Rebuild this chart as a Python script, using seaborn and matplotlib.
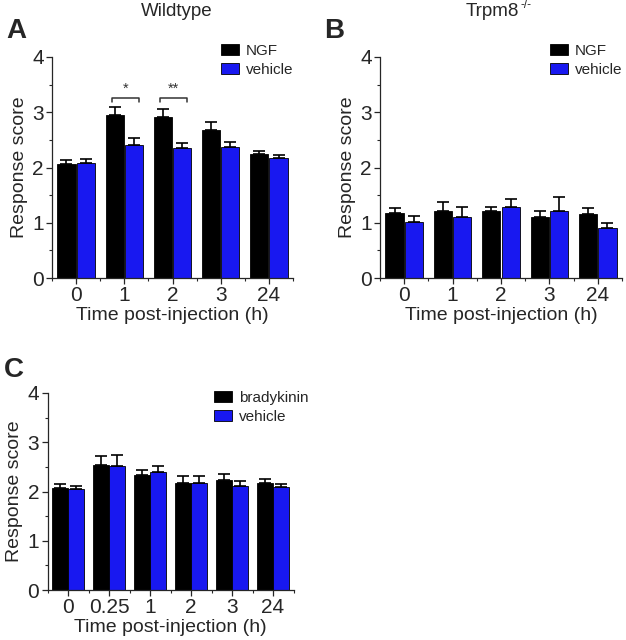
import numpy as np
import pandas as pd
import matplotlib
matplotlib.use('Agg')
import matplotlib.pyplot as plt
import seaborn as sns

sns.set_style('ticks')
plt.rcParams['font.family'] = ['Liberation Sans', 'DejaVu Sans']

# ---- data ----
times_ab = ['0', '1', '2', '3', '24']
times_c = ['0', '0.25', '1', '2', '3', '24']

wt_ngf = [2.06, 2.95, 2.91, 2.68, 2.24]
wt_ngf_err = [0.07, 0.14, 0.15, 0.14, 0.06]
wt_veh = [2.08, 2.41, 2.36, 2.37, 2.18]
wt_veh_err = [0.08, 0.13, 0.08, 0.09, 0.05]

ko_ngf = [1.18, 1.22, 1.22, 1.11, 1.15]
ko_ngf_err = [0.08, 0.16, 0.07, 0.11, 0.11]
ko_veh = [1.02, 1.11, 1.28, 1.22, 0.90]
ko_veh_err = [0.10, 0.17, 0.15, 0.25, 0.09]

bk = [2.07, 2.54, 2.33, 2.17, 2.23, 2.18]
bk_err = [0.09, 0.19, 0.10, 0.15, 0.13, 0.08]
bk_veh = [2.06, 2.51, 2.40, 2.17, 2.12, 2.10]
bk_veh_err = [0.06, 0.23, 0.11, 0.15, 0.10, 0.06]

BLUE = '#1818f0'
W, H = 626, 640


def panel(ax, times, treat, treat_err, veh, veh_err, treat_name):
    df = pd.DataFrame({
        'time': times * 2,
        'score': treat + veh,
        'group': [treat_name] * len(times) + ['vehicle'] * len(times),
    })
    sns.barplot(data=df, x='time', y='score', hue='group', order=times,
                hue_order=[treat_name, 'vehicle'], saturation=1,
                palette=['black', BLUE], width=0.8, gap=0.06,
                edgecolor='black', linewidth=0.6, errorbar=None, ax=ax)
    # upward-only SEM bars
    for cont, errs in zip(ax.containers, [treat_err, veh_err]):
        for bar, e in zip(cont, errs):
            x = bar.get_x() + bar.get_width() / 2
            ax.errorbar(x, bar.get_height(), yerr=[[0], [e]], fmt='none',
                        ecolor='black', elinewidth=1.2, capsize=4.5,
                        capthick=1.2, zorder=1)
    n = len(times)
    ax.set_xlim(-0.5, n - 0.5)
    ax.set_ylim(0, 4)
    ax.set_yticks([0, 1, 2, 3, 4])
    ax.set_yticks(np.arange(0.5, 4, 1), minor=True)
    ax.set_xticks(np.arange(-0.5, n, 1), minor=True)
    ax.tick_params(axis='both', which='major', labelsize=15, length=4,
                   width=0.9, direction='out', pad=2)
    ax.tick_params(axis='both', which='minor', length=2.5, width=0.8,
                   direction='out')
    ax.set_xlabel('Time post-injection (h)', fontsize=14, labelpad=1)
    ax.set_ylabel('Response score', fontsize=14, labelpad=3)
    sns.despine(ax=ax)
    for s in ('left', 'bottom'):
        ax.spines[s].set_linewidth(0.9)
    ax.get_legend().remove()


def add_legend(ax, x_px, y_px):
    fig = ax.figure
    ax.legend(loc='upper left', bbox_to_anchor=(x_px / W, 1 - y_px / H),
              bbox_transform=fig.transFigure, frameon=False, fontsize=11,
              borderpad=0, borderaxespad=0, labelspacing=0.3,
              handlelength=1.2, handleheight=0.75, handletextpad=0.45)


fig = plt.figure(figsize=(W / 100, H / 100), dpi=100)
axA = fig.add_axes([52 / W, 1 - 278 / H, 241 / W, 221 / H])
axB = fig.add_axes([380 / W, 1 - 278 / H, 242 / W, 221 / H])
axC = fig.add_axes([47.5 / W, 1 - 590 / H, 246 / W, 197 / H])

panel(axA, times_ab, wt_ngf, wt_ngf_err, wt_veh, wt_veh_err, 'NGF')
panel(axB, times_ab, ko_ngf, ko_ngf_err, ko_veh, ko_veh_err, 'NGF')
panel(axC, times_c, bk, bk_err, bk_veh, bk_veh_err, 'bradykinin')

add_legend(axA, 221, 44)
add_legend(axB, 550, 44)
add_legend(axC, 214, 391)

# significance brackets in panel A
for i, lab in [(1, '*'), (2, '**')]:
    x0, x1 = i - 0.25, i + 0.3
    y, d = 3.26, 0.07
    axA.plot([x0, x0, x1, x1], [y - d, y, y, y - d], color='#333333', lw=1.1)
    axA.text((x0 + x1) / 2, y + 0.03, lab, ha='center', va='bottom',
             fontsize=10.5, color='#333333')

fig.text(177 / W, 1 - 12 / H, 'Wildtype', ha='center', va='center', fontsize=13.5)
t = fig.text(466 / W, 1 - 12 / H, 'Trpm8', ha='left', va='center', fontsize=13.5)
fig.canvas.draw()
bb = t.get_window_extent()
fig.text((bb.x1 + 1) / W, (bb.y1 - 2) / H, '-/-', ha='left', va='center',
         fontsize=8.5)

for lab, x, y in [('A', 16, 31), ('B', 334, 31), ('C', 14, 370)]:
    fig.text(x / W, 1 - y / H, lab, ha='center', va='center', fontsize=20,
             fontweight='bold')

fig.savefig('out.png', dpi=100)
